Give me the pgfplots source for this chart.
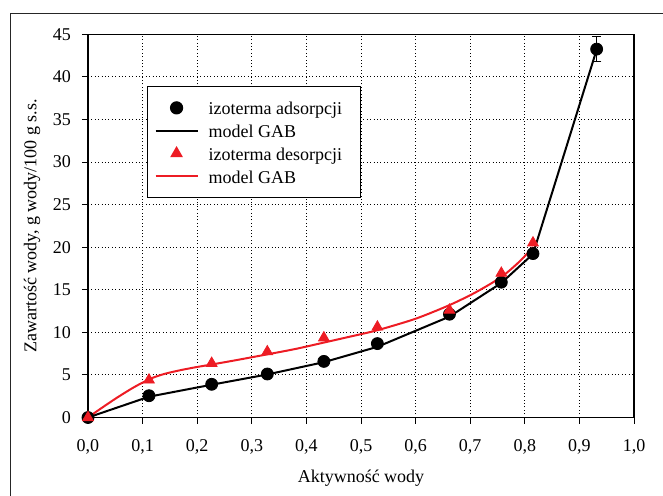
\documentclass[border=0pt]{standalone}
\usepackage{fontspec}
\setmainfont{Liberation Serif}
\usepackage{pgfplots}
\pgfplotsset{compat=1.18}
\definecolor{myred}{RGB}{237,28,36}
\begin{document}
\begin{tikzpicture}[font=\fontsize{9}{11}\selectfont]
\useasboundingbox (0,0) rectangle (331.5pt,247.5pt);
\clip (0,0) rectangle (331.5pt,247.5pt);
\draw[black!85, line width=0.5pt] (5pt,-10pt) rectangle (345pt,241pt);
\begin{axis}[
  at={(44pt,38.75pt)}, anchor=south west,
  scale only axis, width=273pt, height=191.6pt,
  xmin=0, xmax=1, ymin=0, ymax=45,
  axis line style={line width=0.6pt},
  xtick={0,0.1,0.2,0.3,0.4,0.5,0.6,0.7,0.8,0.9,1},
  xticklabels={{0,0},{0,1},{0,2},{0,3},{0,4},{0,5},{0,6},{0,7},{0,8},{0,9},{1,0}},
  ytick={0,5,10,15,20,25,30,35,40,45},
  yticklabels={0,5,10,15,20,25,30,35,40,45},
  tick pos=left, tick align=outside,
  major tick length=3pt,
  tick style={black, line width=0.5pt},
  ticklabel style={font=\fontsize{9}{11}\selectfont},
  xticklabel style={yshift=-4.5pt},
  yticklabel style={xshift=-2pt},
  grid=major,
  major grid style={black, line width=0.5pt, dash pattern=on 0.5pt off 1.2pt},
  xlabel={Aktywność wody},
  ylabel={Zawartość wody, g wody/100 g s.s.},
  xlabel style={anchor=center, at={(axis description cs:0.5,-0.1593)}},
  ylabel style={anchor=center, at={(axis description cs:-0.1026,0.5)}},
  label style={font=\fontsize{9}{11}\selectfont},
  legend style={at={(axis description cs:0.108,0.8655)}, anchor=north west,
    draw=black, line width=0.6pt, fill=white,
    inner xsep=0pt, inner ysep=5pt, row sep=0pt, column sep=5pt,
    nodes={inner sep=0pt, text height=9.2pt, text depth=2.2pt, font=\fontsize{9}{11}\selectfont}},
  legend cell align=left,
  legend image code/.code={\path (-3.5pt,0pt) (21pt,0pt); \draw[mark repeat=2, mark phase=2, #1] plot coordinates {(0pt,0pt) (10.5pt,0pt) (21pt,0pt)};},
]
% black model
\addplot[black, line width=1pt, forget plot] coordinates {
(0,0) (0.112,2.45) (0.2265,3.85) (0.328,5.05) (0.432,6.5) (0.53,8.3) (0.662,11.85) (0.757,15.8) (0.815,19.2) (0.9316,43.2)};
% adsorption points with error bar
\addplot[only marks, mark=*, mark size=3pt, black, forget plot,
  error bars/.cd, y dir=both, y explicit,
  error bar style={black, line width=0.5pt},
  error mark options={rotate=90, mark size=2.3pt, line width=0.5pt, black}]
 coordinates {
(0,0) +- (0,0)
(0.1117,2.56) +- (0,0)
(0.2265,3.90) +- (0,0)
(0.3284,5.11) +- (0,0)
(0.432,6.59) +- (0,0)
(0.530,8.68) +- (0,0)
(0.662,12.13) +- (0,0)
(0.757,15.89) +- (0,0)
(0.815,19.25) +- (0,0)
(0.9316,43.26) +- (0,1.47)};
% red model
\addplot[myred, line width=1pt, smooth, tension=0.45, forget plot] coordinates {
(0,0) (0.02,0.9) (0.05,2.2) (0.08,3.4) (0.1,4.1) (0.12,4.7) (0.14,5.12) (0.165,5.5) (0.195,5.88) (0.226,6.22) (0.27,6.72) (0.327,7.4) (0.38,8.05) (0.432,8.8) (0.48,9.5) (0.53,10.25) (0.6,11.6) (0.662,13.2) (0.71,14.7) (0.757,16.5) (0.79,18.3) (0.815,20.0)};
% desorption points
\addplot[only marks, mark=triangle*, mark size=3.1pt, myred, forget plot] coordinates {
(0,0) (0.1117,4.41) (0.2265,6.37) (0.3284,7.73) (0.432,9.36) (0.530,10.63) (0.662,12.61) (0.757,16.95) (0.815,20.51)};
\addlegendimage{only marks, mark=*, mark size=3pt, black}
\addlegendentry{\makebox[76pt][l]{izoterma adsorpcji}}
\addlegendimage{black, line width=1pt}
\addlegendentry{\makebox[76pt][l]{model GAB}}
\addlegendimage{only marks, mark=triangle*, mark size=3.1pt, myred}
\addlegendentry{\makebox[76pt][l]{izoterma desorpcji}}
\addlegendimage{myred, line width=1pt}
\addlegendentry{\makebox[76pt][l]{model GAB}}
\end{axis}
\end{tikzpicture}
\end{document}
